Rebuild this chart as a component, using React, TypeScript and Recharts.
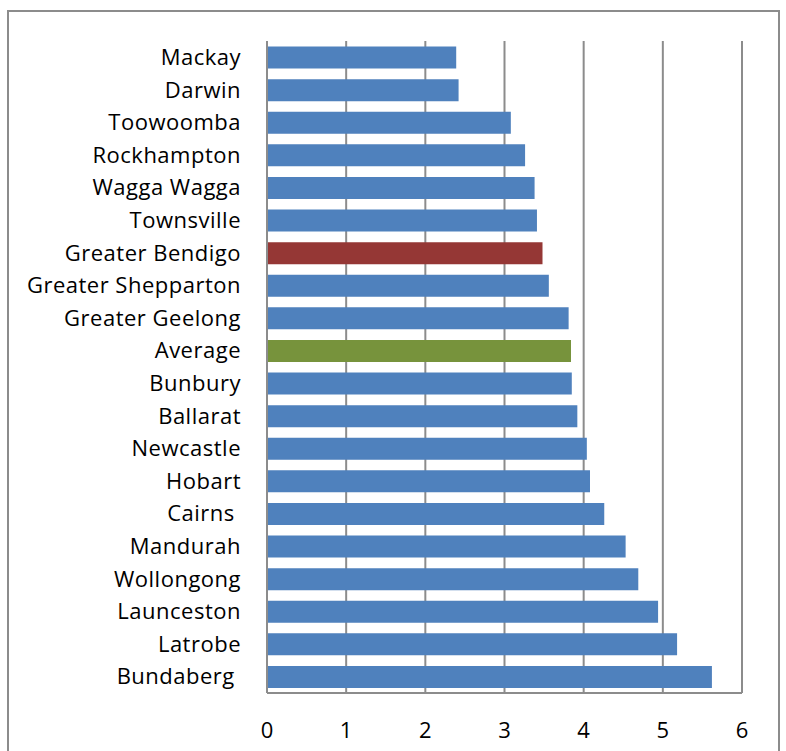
import React from "react";
import { BarChart, Bar, XAxis, YAxis, CartesianGrid, Cell } from "recharts";

const cities = [
  "Mackay",
  "Darwin",
  "Toowoomba",
  "Rockhampton",
  "Wagga Wagga",
  "Townsville",
  "Greater Bendigo",
  "Greater Shepparton",
  "Greater Geelong",
  "Average",
  "Bunbury",
  "Ballarat",
  "Newcastle",
  "Hobart",
  "Cairns ",
  "Mandurah",
  "Wollongong",
  "Launceston",
  "Latrobe",
  "Bundaberg ",
];

const values = [
  2.39, 2.42, 3.08, 3.26, 3.38, 3.41, 3.48, 3.56, 3.81, 3.84,
  3.85, 3.92, 4.04, 4.08, 4.26, 4.53, 4.69, 4.94, 5.18, 5.62,
];

const xTicks = [0, 1, 2, 3, 4, 5, 6];

const data = cities.map((name, i) => ({ name, value: values[i] }));

const BLUE = "#4F81BD";
const RED = "#953735";
const GREEN = "#77933C";
const GRID = "#8c8c8c";
const FONT = "'Open Sans', sans-serif";

const barColor = (name: string) =>
  name === "Greater Bendigo" ? RED : name === "Average" ? GREEN : BLUE;

const CityTick = (props: any) => {
  const { x, y, payload } = props;
  return (
    <text
      x={x}
      y={y}
      dy="0.35em"
      textAnchor="end"
      fill="#000"
      style={{ whiteSpace: "pre", fontFamily: FONT, fontSize: 22, letterSpacing: 0.5 }}
    >
      {payload.value}
    </text>
  );
};

export default function App() {
  return (
    <div style={{ position: "absolute", left: 0, top: 0, width: 786, height: 751, background: "#fff", overflow: "hidden" }}>
      <div
        style={{
          position: "absolute",
          left: 7,
          top: 10,
          width: 773,
          height: 741,
          boxSizing: "border-box",
          border: `2px solid ${GRID}`,
          borderBottom: "none",
        }}
      />
      <div style={{ position: "absolute", left: 0, top: 0 }}>
        <BarChart
          width={786}
          height={751}
          data={data}
          layout="vertical"
          margin={{ top: 41, right: 44, bottom: 28, left: 0 }}
          barCategoryGap="17%"
        >
          <CartesianGrid horizontal={false} stroke={GRID} strokeWidth={2} />
          <XAxis
            type="number"
            domain={[0, 6]}
            ticks={xTicks}
            interval={0}
            height={30}
            axisLine={{ stroke: GRID, strokeWidth: 2 }}
            tickLine={false}
            tickSize={0}
            tickMargin={29}
            tick={{ fill: "#000", fontSize: 22, fontFamily: FONT }}
          />
          <YAxis
            type="category"
            dataKey="name"
            width={267}
            interval={0}
            axisLine={{ stroke: GRID, strokeWidth: 2 }}
            tickLine={false}
            tickSize={0}
            tickMargin={26}
            tick={<CityTick />}
          />
          <Bar dataKey="value" isAnimationActive={false}>
            {data.map((d, i) => (
              <Cell key={`cell-${i}`} fill={barColor(d.name)} />
            ))}
          </Bar>
        </BarChart>
      </div>
    </div>
  );
}
